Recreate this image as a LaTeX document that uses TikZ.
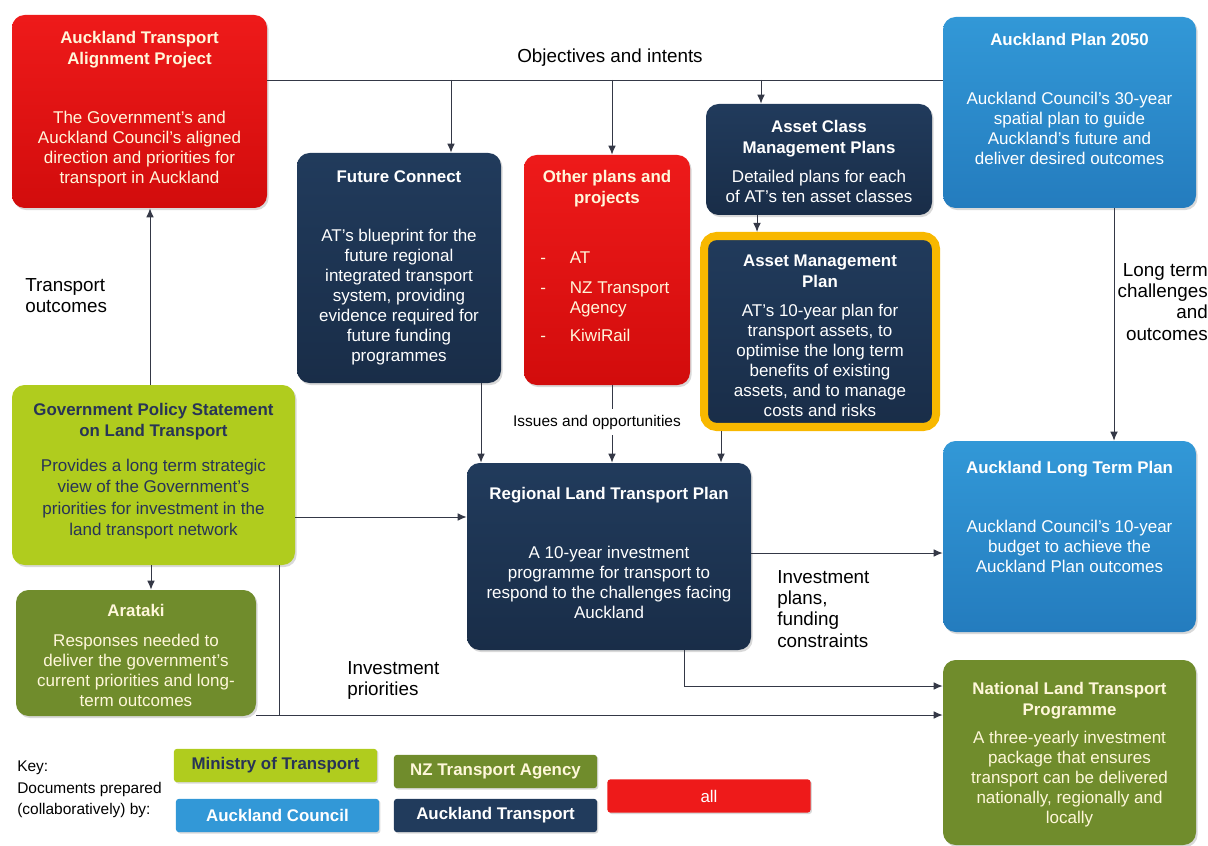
\documentclass[tikz,border=0pt]{standalone}
\usepackage{fontspec}
\setmainfont{Liberation Sans}
\usetikzlibrary{arrows.meta,positioning,fit,shadows}

\definecolor{atred}{RGB}{238,26,26}
\definecolor{atreddk}{RGB}{210,12,12}
\definecolor{atnavy}{RGB}{33,59,92}
\definecolor{atnavydk}{RGB}{25,45,72}
\definecolor{acblue}{RGB}{50,152,215}
\definecolor{acbluedk}{RGB}{36,124,190}
\definecolor{motlime}{RGB}{176,204,30}
\definecolor{nztaolive}{RGB}{112,140,44}
\definecolor{amber}{RGB}{248,184,0}
\definecolor{limetext}{RGB}{40,52,86}
\definecolor{cream}{RGB}{255,247,218}
\definecolor{linkgrey}{RGB}{52,56,70}

\tikzset{
    >={Latex[length=6.5pt,width=5.5pt]},
    docbox/.style={rounded corners=9pt, inner sep=0pt,
        drop shadow={shadow xshift=1.2pt, shadow yshift=-1.5pt, opacity=0.3}},
    redbox/.style={docbox, top color=atred, bottom color=atreddk},
    navybox/.style={docbox, top color=atnavy, bottom color=atnavydk},
    bluebox/.style={docbox, top color=acblue, bottom color=acbluedk},
    limebox/.style={docbox, fill=motlime},
    olivebox/.style={docbox, fill=nztaolive},
    keybox/.style={rounded corners=2pt, inner sep=0pt,
        minimum width=5.075cm, minimum height=0.83cm,
        font=\bfseries\fontsize{12}{14}\selectfont,
        drop shadow={shadow xshift=1pt, shadow yshift=-1pt, opacity=0.3}},
    ttl/.style={font=\bfseries\fontsize{12}{14.8}\selectfont, align=center,
        inner sep=0pt, anchor=north},
    txt/.style={font=\fontsize{12.1}{14.2}\selectfont, align=center,
        inner sep=0pt, anchor=north},
    flowlbl/.style={font=\fontsize{13.4}{15.2}\selectfont, inner sep=0pt},
    flow/.style={draw=linkgrey, line width=0.7pt},
    flowarr/.style={flow, ->},
}

\begin{document}
\begin{tikzpicture}[x=0.025cm, y=-0.025cm]
\useasboundingbox (0,0) rectangle (1208,846);

% documents
\node[redbox, fit={(12,15) (267,208)}] (atap) {};
\node[ttl, text=cream] (atapT) at (139.5,31) {Auckland Transport\\Alignment Project};
\node[txt, text=cream] (atapB) at (139.5,111) {The Government's and\\Auckland Council's aligned\\direction and priorities for\\transport in Auckland};

\node[navybox, fit={(297,153) (501,383)}] (fc) {};
\node[ttl, text=white] (fcT) at (399,170) {Future Connect};
\node[txt, text=white] (fcB) at (399,229) {AT's blueprint for the\\future regional\\integrated transport\\system, providing\\evidence required for\\future funding\\programmes};

\node[redbox, fit={(524,155) (690,385)}] (other) {};
\node[ttl, text=cream] (otherT) at (607,170) {Other plans and\\projects};
\node[txt, text=cream, anchor=north west, align=left] (otherB) at (540,249) {\begin{tabular}{@{}l@{\hspace{17pt}}l@{}}-&AT\\[7pt]-&NZ Transport\\&Agency\\[6pt]-&KiwiRail\end{tabular}};

\node[navybox, fit={(706,104) (932,215)}] (acmp) {};
\node[ttl, text=white] (acmpT) at (819,120) {Asset Class\\Management Plans};
\node[txt, text=white] (acmpB) at (819,170) {Detailed plans for each\\of AT's ten asset classes};

\node[navybox, draw=amber, line width=5.7pt, fit={(704,236) (936,427)}] (amp) {};
\node[ttl, text=white] (ampT) at (820,255) {Asset Management\\Plan};
\node[txt, text=white] (ampB) at (820,304) {AT's 10-year plan for\\transport assets, to\\optimise the long term\\benefits of existing\\assets, and to manage\\costs and risks};

\node[bluebox, fit={(943,17) (1196,208)}] (ap) {};
\node[ttl, text=white] (apT) at (1069.5,33) {Auckland Plan 2050};
\node[txt, text=white] (apB) at (1069.5,92) {Auckland Council's 30-year\\spatial plan to guide\\Auckland's future and\\deliver desired outcomes};

\node[limebox, fit={(12,385) (295,565)}] (gps) {};
\node[ttl, text=limetext] (gpsT) at (153.5,403) {Government Policy Statement\\on Land Transport};
\node[txt, text=limetext, font=\fontsize{12.1}{15.2}\selectfont] (gpsB) at (153.5,459) {Provides a long term strategic\\view of the Government's\\priorities for investment in the\\land transport network};

\node[olivebox, fit={(16,590) (256,716)}] (arataki) {};
\node[ttl, text=cream] (aratakiT) at (136,604) {Arataki};
\node[txt, text=cream] (aratakiB) at (136,634) {Responses needed to\\deliver the government's\\current priorities and long-\\term outcomes};

\node[navybox, fit={(467,463) (751,650)}] (rltp) {};
\node[ttl, text=white] (rltpT) at (609,487) {Regional Land Transport Plan};
\node[txt, text=white] (rltpB) at (609,546) {A 10-year investment\\programme for transport to\\respond to the challenges facing\\Auckland};

\node[bluebox, fit={(943,441) (1196,632)}] (altp) {};
\node[ttl, text=white] (altpT) at (1069.5,461) {Auckland Long Term Plan};
\node[txt, text=white] (altpB) at (1069.5,520) {Auckland Council's 10-year\\budget to achieve the\\Auckland Plan outcomes};

\node[olivebox, fit={(943,660) (1196,845)}] (nltp) {};
\node[ttl, text=cream] (nltpT) at (1069.5,682) {National Land Transport\\Programme};
\node[txt, text=cream] (nltpB) at (1069.5,731) {A three-yearly investment\\package that ensures\\transport can be delivered\\nationally, regionally and\\locally};

% key
\node[flowlbl, font=\fontsize{11}{15}\selectfont, anchor=north west, align=left] (keytxt) at (17,761) {Key:\\Documents prepared\\(collaboratively) by:};
\node[keybox, fill=motlime, text=limetext] (kmot) at (275.5,765.5) {Ministry of Transport};
\node[keybox, fill=nztaolive, text=cream] (knzta) at (495.5,771.5) {NZ Transport Agency};
\node[keybox, fill=acblue, text=white] (kac) at (277.5,815.5) {Auckland Council};
\node[keybox, fill=atnavy, text=white] (kat) at (495.5,815.5) {Auckland Transport};
\node[keybox, fill=atred, text=white, font=\fontsize{12}{14}\selectfont] (kall) at (709,796) {all};

% labels
\node[flowlbl] (objlbl) at (610,58) {Objectives and intents};
\node[flowlbl, anchor=north west, align=left] (toutlbl) at (25,278) {Transport\\outcomes};
\node[flowlbl, anchor=north east, align=right] (ltlbl) at (1208,263) {Long term\\challenges\\and\\outcomes};
\node[flowlbl, font=\fontsize{11}{13}\selectfont, inner ysep=4pt] (isslbl) at (597,422) {Issues and opportunities};
\node[flowlbl, anchor=north west, align=left] (iplbl) at (347,661) {Investment\\priorities};
\node[flowlbl, anchor=north west, align=left] (fundlbl) at (777,570) {Investment\\plans,\\funding\\constraints};

% connectors
\coordinate (objy) at (0,80);
\coordinate (xfc) at (451,0);
\coordinate (xother) at (612,0);
\coordinate (xacmp) at (761,0);
\coordinate (xamp) at (757,0);
\coordinate (xap) at (1114,0);
\coordinate (xgps) at (150,0);
\coordinate (xara) at (151,0);
\coordinate (ygps) at (0,517);
\coordinate (xinv) at (279,0);
\coordinate (yinv) at (0,715);
\coordinate (xfcr) at (481,0);
\coordinate (xampr) at (721,0);
\coordinate (yrl) at (0,553);
\coordinate (xrn) at (684,0);
\coordinate (yrn) at (0,686);

\draw[flow] (atap.east |- objy) -- (ap.west |- objy);
\draw[flowarr] (xfc |- objy) -- (xfc |- fc.north);
\draw[flowarr] (xother |- objy) -- (xother |- other.north);
\draw[flowarr] (xacmp |- objy) -- (xacmp |- acmp.north);
\draw[flowarr] (xamp |- acmp.south) -- (xamp |- amp.north);
\draw[flowarr] (xap |- ap.south) -- (xap |- altp.north);
\draw[flowarr] (xgps |- gps.north) -- (xgps |- atap.south);
\draw[flowarr] (xara |- gps.south) -- (xara |- arataki.north);
\draw[flowarr] (gps.east |- ygps) -- (rltp.west |- ygps);
\draw[flow] (xinv |- gps.south) -- (xinv |- yinv);
\draw[flowarr] (arataki.east |- yinv) -- (nltp.west |- yinv);
\draw[flowarr] (xfcr |- fc.south) -- (xfcr |- rltp.north);
\draw[flow] (xother |- other.south) -- (xother |- isslbl.north);
\draw[flowarr] (xother |- isslbl.south) -- (xother |- rltp.north);
\draw[flowarr] (xampr |- amp.south) -- (xampr |- rltp.north);
\draw[flowarr] (rltp.east |- yrl) -- (altp.west |- yrl);
\draw[flowarr] (xrn |- rltp.south) |- (nltp.west |- yrn);
\end{tikzpicture}
\end{document}
